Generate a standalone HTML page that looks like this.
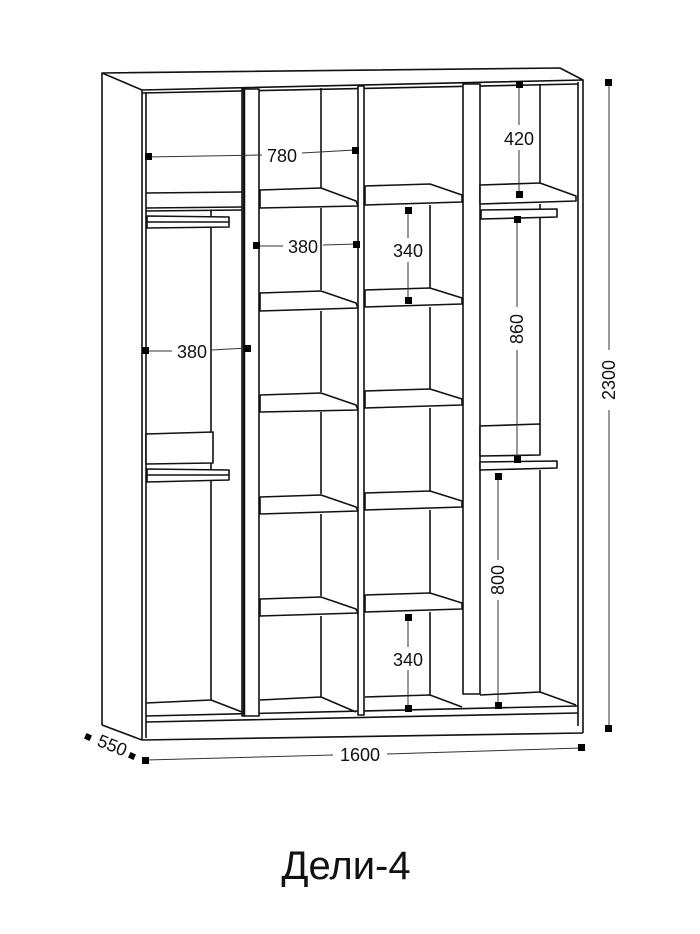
<!DOCTYPE html>
<html><head><meta charset="utf-8"><style>
html,body{margin:0;padding:0;background:#fff;}
svg{display:block;}
text{font-family:"Liberation Sans","DejaVu Sans",sans-serif;fill:#111;}
</style></head><body>
<svg width="700" height="934" viewBox="0 0 700 934" xmlns="http://www.w3.org/2000/svg">
<g stroke="#111" stroke-width="1.6" fill="none" stroke-linejoin="round">
<polygon points="102,73 560,68 583,80 142,90" fill="#fff"/>
<line x1="142" y1="90" x2="142" y2="740"/>
<line x1="102" y1="73" x2="102" y2="725"/>
<line x1="102" y1="725" x2="142" y2="740"/>
<line x1="142" y1="740" x2="583" y2="733"/>
<line x1="583" y1="80" x2="583" y2="733"/>
<line x1="578" y1="82" x2="578" y2="726"/>
<line x1="146" y1="92" x2="146" y2="738"/>
<line x1="142" y1="93" x2="578" y2="84"/>
<line x1="146" y1="716" x2="578" y2="706"/>
<line x1="146" y1="722" x2="578" y2="713"/>
<rect x="242" y="89" width="17" height="627" fill="#fff"/>
<line x1="244" y1="89" x2="244" y2="716" stroke-width="2.5"/>
<rect x="358" y="86" width="6" height="629" fill="#fff"/>
<rect x="463" y="84" width="17" height="610" fill="#fff"/>
<line x1="211" y1="210" x2="211" y2="700"/>
<line x1="146" y1="193" x2="242" y2="192"/>
<line x1="146" y1="208" x2="242" y2="207"/>
<line x1="146" y1="211" x2="242" y2="210"/>
<polygon points="147,216 229,217 229,227 147,228" fill="#fff"/>
<line x1="147" y1="222" x2="229" y2="222"/>
<polygon points="146,434 213,432 213,463 146,464" fill="#fff"/>
<polygon points="147,469 229,470 229,480 147,482" fill="#fff"/>
<line x1="147" y1="475" x2="229" y2="475"/>
<line x1="146" y1="703" x2="211" y2="700"/>
<line x1="211" y1="700" x2="242" y2="712"/>
<g>
<line x1="321" y1="88" x2="321" y2="188"/>
<path d="M260,190 L321,188 L356,201 L358,206 L260,208 Z" fill="#fff"/>
<line x1="321" y1="208" x2="321" y2="290"/>
<path d="M260,293 L321,291 L356,303 L358,308 L260,311 Z" fill="#fff"/>
<line x1="321" y1="311" x2="321" y2="392"/>
<path d="M260,395 L321,393 L356,405 L358,410 L260,412 Z" fill="#fff"/>
<line x1="321" y1="412" x2="321" y2="494"/>
<path d="M260,497 L321,495 L356,507 L358,511 L260,514 Z" fill="#fff"/>
<line x1="321" y1="514" x2="321" y2="596"/>
<path d="M260,599 L321,597 L356,609 L358,613 L260,616 Z" fill="#fff"/>
<line x1="321" y1="616" x2="321" y2="697"/>
<path d="M260,700 L321,697 L356,712"/>
</g>
<g>
<path d="M365,186 L430,184 L462,195 L462,202 L365,205 Z" fill="#fff"/>
<line x1="430" y1="205" x2="430" y2="288"/>
<path d="M365,290 L430,288 L462,298 L462,304 L365,307 Z" fill="#fff"/>
<line x1="430" y1="307" x2="430" y2="389"/>
<path d="M365,391 L430,389 L462,399 L462,405 L365,408 Z" fill="#fff"/>
<line x1="430" y1="408" x2="430" y2="491"/>
<path d="M365,493 L430,491 L462,501 L462,507 L365,510 Z" fill="#fff"/>
<line x1="430" y1="510" x2="430" y2="593"/>
<path d="M365,595 L430,593 L462,603 L462,609 L365,612 Z" fill="#fff"/>
<line x1="430" y1="612" x2="430" y2="695"/>
<path d="M365,697 L430,695 L462,707"/>
</g>
<line x1="540" y1="84" x2="540" y2="183"/>
<path d="M480,185 L540,183 L576,196 L576,201 L480,204 Z" fill="#fff"/>
<line x1="540" y1="204" x2="540" y2="425"/>
<polygon points="481,210 557,209 557,217 481,219" fill="#fff"/>
<polygon points="480,426 540,424 540,455 480,456" fill="#fff"/>
<polygon points="480,462 557,461 557,468 480,470" fill="#fff"/>
<line x1="540" y1="470" x2="540" y2="692"/>
<path d="M480,695 L540,692 L576,705"/>
</g>
<g stroke="#333" stroke-width="1" fill="none">
<line x1="148" y1="157" x2="262" y2="155"/><line x1="302" y1="153" x2="355" y2="150"/>
<line x1="257" y1="246" x2="283" y2="246"/><line x1="323" y1="245" x2="357" y2="244"/>
<line x1="146" y1="351" x2="172" y2="351"/><line x1="212" y1="350" x2="247" y2="348"/>
<line x1="408" y1="210" x2="408" y2="238"/><line x1="408" y1="262" x2="408" y2="300"/>
<line x1="519" y1="84" x2="519" y2="125"/><line x1="519" y1="150" x2="519" y2="195"/>
<line x1="517" y1="220" x2="517" y2="307"/><line x1="517" y1="350" x2="517" y2="459"/>
<line x1="498" y1="476" x2="498" y2="560"/><line x1="498" y1="600" x2="498" y2="706"/>
<line x1="408" y1="618" x2="408" y2="647"/><line x1="408" y1="670" x2="408" y2="708"/>
<line x1="609" y1="82" x2="609" y2="350"/><line x1="609" y1="410" x2="609" y2="728"/>
<line x1="146" y1="760" x2="333" y2="755"/><line x1="387" y1="754" x2="582" y2="748"/>
</g>
<g fill="#000">
<rect x="145" y="153" width="7" height="7"/><rect x="352" y="147" width="7" height="7"/>
<rect x="253" y="242" width="7" height="7"/><rect x="353" y="241" width="7" height="7"/>
<rect x="142" y="347" width="7" height="7"/><rect x="244" y="345" width="7" height="7"/>
<rect x="405" y="207" width="7" height="7"/><rect x="405" y="297" width="7" height="7"/>
<rect x="516" y="81" width="7" height="7"/><rect x="516" y="191" width="7" height="7"/>
<rect x="514" y="216" width="7" height="7"/><rect x="514" y="456" width="7" height="7"/>
<rect x="495" y="473" width="7" height="7"/><rect x="495" y="702" width="7" height="7"/>
<rect x="405" y="614" width="7" height="7"/><rect x="405" y="705" width="7" height="7"/>
<rect x="605" y="79" width="7" height="7"/><rect x="605" y="725" width="7" height="7"/>
<rect x="142" y="757" width="7" height="7"/><rect x="578" y="744" width="7" height="7"/>
<rect x="85" y="734" width="6" height="6" transform="rotate(25 88 737)"/>
<rect x="129" y="753" width="6" height="6" transform="rotate(25 132 756)"/>
</g>
<g font-size="18">
<text x="282" y="162" text-anchor="middle">780</text>
<text x="303" y="253" text-anchor="middle">380</text>
<text x="192" y="358" text-anchor="middle">380</text>
<text x="408" y="257" text-anchor="middle">340</text>
<text x="519" y="145" text-anchor="middle">420</text>
<text x="408" y="666" text-anchor="middle">340</text>
<text x="360" y="761" text-anchor="middle">1600</text>
<text transform="translate(523,329) rotate(-90)" text-anchor="middle">860</text>
<text transform="translate(504,580) rotate(-90)" text-anchor="middle">800</text>
<text transform="translate(615,380) rotate(-90)" text-anchor="middle">2300</text>
<text transform="translate(110,751) rotate(22)" text-anchor="middle">550</text>
</g>
<text x="346" y="879" text-anchor="middle" font-size="40">Дели-4</text>
</svg>
</body></html>
